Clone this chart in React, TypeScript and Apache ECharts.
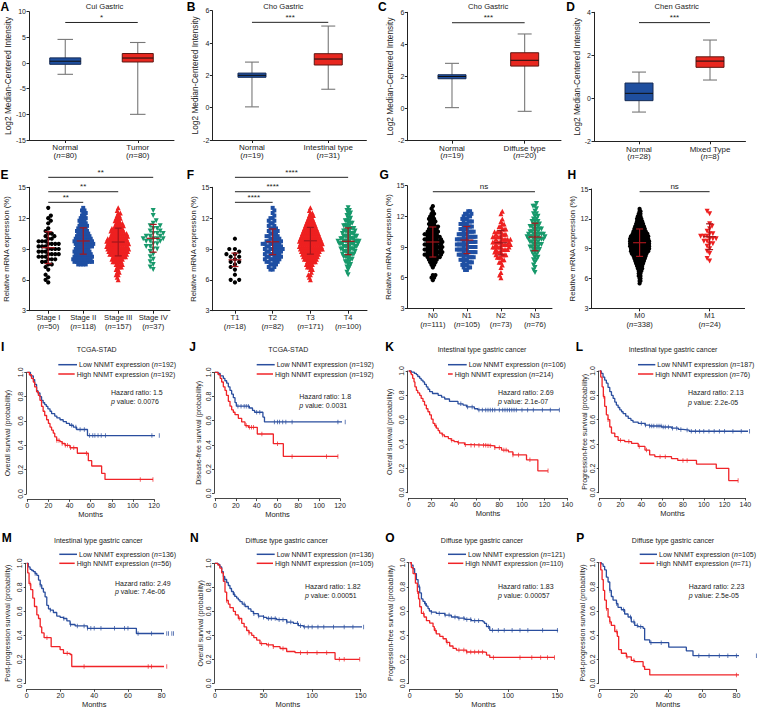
import React, { useEffect, useRef } from "react";
import * as echarts from "echarts";

const FONT = '"Liberation Sans", Arial, Helvetica, sans-serif';
const INK = "#222222";
const BOX_BLUE = "#1f4f9f";
const BOX_BLUE_EDGE = "#142a55";
const BOX_RED = "#e8271f";
const BOX_RED_EDGE = "#5e1712";
const WHISK = "#777777";
const DOT_BLACK = "#000000";
const DOT_BLUE = "#1f4fa3";
const DOT_RED = "#ee2020";
const DOT_GREEN = "#17996b";
const ERR_RED = "#a3161c";
const KM_BLUE = "#2a4e9e";
const KM_RED = "#f02428";

// ---------------- Row 1: box plots [min, q1, median, q3, max] ----------------
const A_cats = ["Normal", "Tumor"];
const A_n = [80, 80];
const A_normal = [-2.2, -0.25, 0.35, 1.0, 4.6];
const A_tumor = [-10.0, 0.2, 0.97, 1.85, 4.0];
const A_sig = "*";

const B_cats = ["Normal", "Intestinal type"];
const B_n = [19, 31];
const B_normal = [0.05, 1.88, 2.0, 2.14, 2.82];
const B_intestinal = [1.14, 2.64, 3.01, 3.34, 5.05];
const B_sig = "***";

const C_cats = ["Normal", "Diffuse type"];
const C_n = [19, 20];
const C_normal = [0.06, 1.86, 2.0, 2.11, 2.82];
const C_diffuse = [-0.17, 2.65, 3.01, 3.48, 4.65];
const C_sig = "***";

const D_cats = ["Normal", "Mixed Type"];
const D_n = [28, 8];
const D_normal = [-0.64, -0.11, 0.23, 0.71, 1.22];
const D_mixed = [0.85, 1.44, 1.73, 1.93, 2.71];
const D_sig = "***";

// ---------------- Row 2: dot plots (counts per 0.25 bin, starting at *_from) ----------------
const BIN_STEP = 0.25;

const E_cats = ["Stage I", "Stage II", "Stage III", "Stage IV"];
const E_n = [50, 118, 157, 37];
const E_from = [5.75, 7.5, 6.0, 7.0];
const E_stageI = [1, 1, 1, 1, 0, 1, 1, 2, 2, 3, 3, 4, 3, 4, 3, 4, 3, 2, 2, 2, 1, 1, 0, 1, 1, 1, 1, 0, 0, 1];
const E_stageII = [4, 8, 8, 8, 7, 7, 6, 7, 8, 8, 7, 6, 5, 5, 4, 4, 3, 3, 3, 2, 2, 2, 1];
const E_stageIII = [1, 1, 2, 2, 2, 3, 4, 5, 6, 7, 9, 10, 11, 11, 11, 11, 10, 9, 8, 7, 6, 5, 4, 3, 3, 2, 2, 1, 1];
const E_stageIV = [1, 1, 1, 1, 1, 1, 1, 1, 2, 2, 2, 3, 4, 3, 3, 2, 2, 2, 1, 1, 0, 1, 0, 1];
const E_mean = [9.13, 9.78, 9.68, 10.04];
const E_sd = [1.55, 1.28, 1.35, 1.35];
const E_sigPairs = [[1, 2, 13.54], [1, 3, 14.57], [1, 4, 15.97]];
const E_sigLabels = ["**", "**", "**"];

const F_cats = ["T1", "T2", "T3", "T4"];
const F_n = [18, 82, 171, 100];
const F_from = [5.75, 7.0, 6.0, 6.5];
const F_T1 = [1, 2, 0, 1, 0, 1, 1, 1, 2, 1, 2, 2, 1, 2, 0, 0, 0, 1];
const F_T2 = [2, 2, 3, 4, 5, 5, 5, 5, 6, 5, 6, 5, 4, 4, 3, 3, 3, 2, 2, 2, 2, 1, 1, 1, 1];
const F_T3 = [1, 1, 2, 1, 2, 3, 4, 5, 7, 8, 9, 10, 12, 12, 12, 12, 11, 10, 9, 8, 7, 6, 5, 4, 3, 3, 2, 1, 1];
const F_T4 = [1, 1, 1, 2, 2, 3, 3, 4, 5, 5, 6, 6, 8, 8, 6, 6, 5, 5, 4, 4, 3, 3, 2, 2, 2, 2, 1];
const F_mean = [7.95, 9.7, 9.8, 9.75];
const F_sd = [0.65, 1.25, 1.3, 1.3];
const F_sigPairs = [[1, 2, 13.54], [1, 3, 14.57], [1, 4, 15.97]];
const F_sigLabels = ["****", "****", "****"];

const G_cats = ["N0", "N1", "N2", "N3"];
const G_n = [111, 105, 73, 76];
const G_from = [5.75, 6.75, 6.0, 6.5];
const G_N0 = [1, 2, 2, 0, 0, 1, 2, 3, 4, 6, 7, 7, 7, 7, 7, 7, 7, 6, 6, 5, 4, 4, 3, 3, 3, 2, 2, 1, 1, 1];
const G_N1 = [2, 3, 3, 4, 4, 5, 5, 6, 6, 6, 6, 6, 6, 6, 5, 5, 4, 4, 4, 4, 3, 3, 3, 2];
const G_N2 = [1, 1, 1, 0, 1, 1, 2, 2, 3, 4, 4, 5, 6, 6, 6, 6, 5, 4, 4, 3, 2, 2, 1, 1, 0, 1, 1];
const G_N3 = [1, 1, 1, 1, 1, 2, 2, 2, 3, 3, 4, 4, 4, 6, 6, 6, 4, 4, 4, 3, 3, 2, 2, 2, 1, 1, 2, 1];
const G_mean = [9.49, 9.68, 9.42, 9.98];
const G_sd = [1.47, 1.33, 1.2, 1.35];
const G_sigPairs = [[1, 4, 14.41]];
const G_sigLabels = ["ns"];

const H_cats = ["M0", "M1"];
const H_n = [338, 24];
const H_from = [5.5, 7.75];
const H_M0 = [1, 2, 2, 3, 3, 4, 6, 7, 9, 11, 13, 15, 18, 21, 22, 23, 23, 23, 22, 21, 18, 15, 13, 11, 9, 7, 6, 4, 3, 2, 1];
const H_M1 = [1, 1, 0, 1, 1, 1, 1, 2, 2, 3, 3, 2, 1, 1, 1, 1, 0, 0, 0, 1, 1];
const H_mean = [9.6, 10.2];
const H_sd = [1.38, 1.3];
const H_sigPairs = [[1, 2, 14.73]];
const H_sigLabels = ["ns"];

// ---------------- Rows 3-4: Kaplan-Meier curves [months, survival] ----------------
const I_low = [[0, 1], [3, 0.97], [5.7, 0.94], [7, 0.9], [8.8, 0.85], [10, 0.83], [12, 0.8], [13.5, 0.77], [15, 0.75], [16.5, 0.735], [18, 0.72], [19.5, 0.7], [21.5, 0.68], [23, 0.66], [26, 0.64], [28, 0.625], [31, 0.61], [34, 0.595], [37, 0.58], [40, 0.565], [43.6, 0.55], [46.7, 0.53], [57, 0.48], [125, 0.48]];
const I_high = [[0, 1], [2, 0.98], [4, 0.95], [5.7, 0.92], [7, 0.88], [8.8, 0.84], [10.5, 0.81], [12, 0.77], [13.5, 0.72], [15, 0.68], [16.5, 0.645], [18.3, 0.61], [20, 0.58], [21.5, 0.55], [23, 0.525], [24.6, 0.5], [26, 0.47], [27.8, 0.44], [31, 0.43], [33, 0.415], [35.7, 0.4], [40.4, 0.38], [47.4, 0.335], [57.8, 0.274], [61, 0.23], [70.4, 0.17], [73.6, 0.12], [119, 0.12]];
const I_lowCens = [42, 46, 50, 54, 59, 62, 64, 67, 70, 74, 118, 125];
const I_highCens = [28, 30, 33, 36, 38, 41, 44, 56, 107, 119];
const I_n = [192, 192];
const I_stats = ["1.5", "0.0076"];

const J_low = [[0, 1], [3, 0.99], [5, 0.97], [8, 0.95], [9.5, 0.93], [11.2, 0.91], [12.8, 0.88], [14.4, 0.85], [16, 0.82], [17.6, 0.79], [19.2, 0.75], [20.5, 0.72], [33, 0.705], [36, 0.685], [38, 0.67], [46, 0.63], [47.5, 0.59], [125, 0.59]];
const J_high = [[0, 1], [3, 0.98], [5, 0.95], [6.4, 0.92], [8, 0.88], [9.6, 0.85], [11, 0.81], [12.8, 0.76], [14.4, 0.72], [16, 0.69], [17.6, 0.67], [19.2, 0.65], [22.4, 0.62], [25.6, 0.59], [28.8, 0.56], [32, 0.545], [40.6, 0.49], [56, 0.41], [65.6, 0.305], [118, 0.305]];
const J_lowCens = [22, 25, 28, 30, 32, 40, 43, 57, 60, 62, 65, 68, 74, 118, 125];
const J_highCens = [30, 33, 35, 37, 45, 60, 74, 107, 118];
const J_n = [192, 192];
const J_stats = ["1.8", "0.0031"];

const K_low = [[0, 1], [2.3, 0.99], [5, 0.98], [6.8, 0.97], [8, 0.955], [9.7, 0.94], [11, 0.925], [12.6, 0.91], [14, 0.89], [15.6, 0.87], [17, 0.85], [18.5, 0.83], [21, 0.815], [26, 0.8], [29, 0.785], [31.8, 0.77], [36, 0.75], [43.5, 0.73], [48, 0.72], [51, 0.705], [58, 0.69], [61, 0.68], [133, 0.68]];
const K_high = [[0, 1], [1.5, 0.985], [2.3, 0.97], [3.5, 0.94], [4.7, 0.91], [5.5, 0.87], [6.8, 0.84], [8, 0.82], [9.7, 0.8], [11, 0.775], [12.6, 0.75], [14, 0.72], [15.6, 0.69], [17, 0.665], [18.5, 0.64], [20, 0.605], [21.5, 0.57], [23, 0.55], [24.4, 0.53], [26, 0.51], [27.3, 0.49], [29.5, 0.475], [31.6, 0.46], [35, 0.445], [37.5, 0.43], [40, 0.42], [43.4, 0.41], [49.3, 0.395], [55, 0.39], [70, 0.385], [76, 0.37], [82, 0.35], [88, 0.335], [92, 0.31], [104, 0.27], [114, 0.18], [123, 0.18]];
const K_lowCens = [46, 52, 56, 62, 65, 68, 70, 72, 74, 76, 80, 83, 85, 87, 89, 91, 93, 95, 100, 105, 110, 118, 125, 133];
const K_highCens = [24, 30, 38, 44, 50, 55, 58, 62, 66, 68, 70, 72, 76, 80, 84, 86, 92, 97, 107, 123];
const K_n = [106, 214];
const K_stats = ["2.69", "2.1e-07"];

const L_low = [[0, 1], [1.5, 0.98], [3.2, 0.95], [4.8, 0.925], [6.4, 0.9], [8, 0.865], [9.7, 0.83], [11.3, 0.8], [12.9, 0.775], [14.5, 0.745], [16, 0.72], [17.7, 0.7], [19.3, 0.68], [21, 0.665], [22.5, 0.65], [25, 0.63], [27.4, 0.61], [30, 0.595], [32, 0.58], [37, 0.57], [43.5, 0.556], [48, 0.548], [59.5, 0.54], [69, 0.53], [75.6, 0.52], [80, 0.515], [86, 0.505], [145, 0.505]];
const L_high = [[0, 1], [1, 0.95], [2.3, 0.87], [3.5, 0.79], [4.8, 0.71], [6.4, 0.64], [8, 0.6], [9.7, 0.54], [11.3, 0.49], [14.5, 0.46], [17.7, 0.43], [24, 0.42], [30.6, 0.405], [37, 0.38], [43.5, 0.35], [48, 0.31], [53, 0.296], [69, 0.28], [75, 0.265], [93, 0.235], [112, 0.2], [124, 0.1], [133, 0.1]];
const L_lowCens = [40, 44, 48, 50, 52, 55, 57, 59, 61, 63, 66, 70, 74, 78, 84, 88, 92, 96, 100, 105, 110, 115, 120, 128, 136, 144];
const L_highCens = [4, 8, 20, 28, 38, 45, 58, 63, 80, 84, 133];
const L_n = [187, 76];
const L_stats = ["2.13", "2.2e-05"];

const M_low = [[0, 1], [1, 0.97], [2, 0.95], [3, 0.94], [4, 0.93], [5, 0.915], [6, 0.9], [7, 0.86], [8, 0.82], [8.9, 0.79], [9.9, 0.76], [10.9, 0.72], [11.9, 0.65], [12.9, 0.62], [14, 0.61], [15.8, 0.59], [17.8, 0.56], [19.8, 0.55], [21.8, 0.54], [23.8, 0.52], [25.7, 0.49], [28.7, 0.478], [36, 0.458], [65, 0.415], [87, 0.415]];
const M_high = [[0, 1], [0.6, 0.92], [1.4, 0.83], [2.4, 0.78], [3.6, 0.71], [4.6, 0.64], [6, 0.57], [7, 0.54], [8, 0.47], [8.9, 0.42], [10.3, 0.38], [14.5, 0.305], [19.8, 0.28], [21.8, 0.25], [25.7, 0.24], [26.7, 0.14], [83, 0.14]];
const M_lowCens = [5, 8, 14, 22, 26, 30, 34, 36, 38, 40, 44, 52, 58, 60, 66, 74, 83, 84, 86, 87];
const M_highCens = [2, 12, 24, 34, 72, 74, 83];
const M_n = [136, 56];
const M_stats = ["2.49", "7.4e-06"];

const N_low = [[0, 1], [3, 0.99], [5, 0.97], [6.9, 0.93], [8.6, 0.89], [10, 0.865], [12, 0.84], [13.7, 0.815], [15.4, 0.79], [17, 0.765], [18.9, 0.74], [20.5, 0.725], [22.3, 0.71], [24, 0.695], [25.7, 0.68], [28, 0.66], [31, 0.64], [34.3, 0.62], [37, 0.6], [39.5, 0.58], [44.6, 0.56], [50, 0.55], [53.2, 0.54], [63.5, 0.53], [73.8, 0.51], [80.7, 0.5], [85.8, 0.48], [91, 0.47], [153, 0.47]];
const N_high = [[0, 1], [3, 0.985], [5, 0.96], [6.9, 0.92], [8.6, 0.85], [10.3, 0.76], [12, 0.69], [13.7, 0.66], [15.4, 0.63], [18.9, 0.6], [21, 0.57], [24, 0.54], [27.5, 0.5], [30, 0.47], [32.6, 0.44], [35, 0.42], [37.8, 0.4], [40, 0.38], [42.9, 0.36], [46.3, 0.33], [53.2, 0.32], [60, 0.305], [67, 0.29], [73.8, 0.265], [82.4, 0.255], [123.6, 0.2], [149, 0.2]];
const N_lowCens = [10, 20, 30, 40, 45, 50, 55, 58, 62, 66, 70, 74, 78, 85, 88, 92, 96, 100, 106, 112, 122, 133, 142, 153];
const N_highCens = [12, 25, 35, 48, 55, 60, 70, 88, 95, 105, 115, 128, 133, 149];
const N_n = [136, 105];
const N_stats = ["1.82", "0.00051"];

const O_low = [[0, 1], [1.7, 0.98], [3.4, 0.95], [5, 0.91], [6.8, 0.86], [8.5, 0.8], [10.2, 0.75], [11.9, 0.7], [13.5, 0.68], [15.2, 0.66], [17, 0.64], [18.6, 0.62], [20, 0.6], [22, 0.59], [27, 0.58], [35.6, 0.566], [42.3, 0.55], [49, 0.54], [56, 0.53], [62.6, 0.52], [74.5, 0.51], [76, 0.497], [78, 0.47], [81.3, 0.44], [150.7, 0.44]];
const O_high = [[0, 1], [1.7, 0.96], [3.4, 0.91], [5.8, 0.83], [7.8, 0.76], [9, 0.7], [10.2, 0.635], [11.9, 0.58], [14.6, 0.55], [17, 0.52], [20.3, 0.5], [23.7, 0.47], [25, 0.44], [27, 0.41], [30.5, 0.39], [33.9, 0.37], [37.2, 0.34], [40.6, 0.31], [44, 0.29], [47.4, 0.276], [57.6, 0.26], [76, 0.257], [78, 0.235], [81.3, 0.215], [147, 0.215]];
const O_lowCens = [10, 16, 22, 30, 36, 40, 46, 50, 55, 58, 62, 66, 70, 80, 84, 90, 96, 104, 112, 120, 135, 150];
const O_highCens = [8, 14, 26, 38, 50, 55, 58, 62, 66, 70, 74, 85, 112, 124, 133, 140, 147];
const O_n = [121, 110];
const O_stats = ["1.83", "0.00057"];

const P_low = [[0, 1], [1, 0.99], [2, 0.97], [2.9, 0.94], [3.9, 0.88], [4.9, 0.84], [5.9, 0.77], [6.8, 0.72], [7.8, 0.69], [9.8, 0.66], [10.7, 0.63], [12.7, 0.61], [14.6, 0.575], [16.6, 0.55], [18.5, 0.51], [20.5, 0.48], [22.4, 0.47], [25.4, 0.456], [26.3, 0.36], [29.3, 0.337], [40.4, 0.3], [50.7, 0.27], [54.6, 0.23], [91.7, 0.23]];
const P_high = [[0, 1], [0.6, 0.94], [1.4, 0.86], [2.1, 0.77], [2.9, 0.69], [3.9, 0.62], [4.9, 0.55], [5.9, 0.51], [6.8, 0.48], [8.8, 0.43], [10.3, 0.39], [11.1, 0.28], [12.7, 0.25], [15.6, 0.22], [18.5, 0.19], [20.5, 0.18], [25.4, 0.14], [26.3, 0.116], [29.3, 0.07], [84, 0.07], [84.6, 0.0]];
const P_lowCens = [6, 10, 14, 18, 20, 22, 24, 30, 36, 58, 64, 70, 75, 80, 91.7];
const P_highCens = [4, 6, 10, 16, 20, 80];
const P_n = [105, 71];
const P_stats = ["2.23", "2.5e-05"];

// ---------------- helpers ----------------
function expand(from: number, counts: number[]): number[] {
  const out: number[] = [];
  counts.forEach((c, i) => {
    for (let k = 0; k < c; k++) out.push(from + i * BIN_STEP);
  });
  return out;
}

// beeswarm layout (pixel offsets), then scaled to a target swarm width
function swarmOffsets(vals: number[], pxPerY: number, d: number, width: number): number[] {
  const order = vals.map((_, i) => i).sort((a, b) => vals[a] - vals[b]);
  const placed: number[][] = [];
  const out = new Array(vals.length).fill(0);
  const step = d * 0.3;
  order.forEach((i, n) => {
    const y = vals[i] * pxPerY;
    const near = placed.filter((q) => Math.abs(q[1] - y) < d);
    const pref = n % 2 === 0 ? 1 : -1;
    let x = 0;
    for (let k = 0; k < 3000; k++) {
      const c = k === 0 ? 0 : (k % 2 === 1 ? pref : -pref) * Math.ceil(k / 2) * step;
      if (near.every((q) => (q[0] - c) * (q[0] - c) + (q[1] - y) * (q[1] - y) >= d * d - 1e-6)) {
        x = c;
        break;
      }
    }
    placed.push([x, y]);
    out[i] = x;
  });
  const maxAbs = Math.max(1e-6, ...out.map((v: number) => Math.abs(v)));
  const k = width / 2 / maxAbs;
  return out.map((v: number) => v * k);
}

function survAt(curve: number[][], t: number): number {
  let s = curve[0][1];
  for (const p of curve) if (p[0] <= t) s = p[1];
  return s;
}

function buildOption(): any {
  const grid: any[] = [];
  const xAxis: any[] = [];
  const yAxis: any[] = [];
  const series: any[] = [];
  const graphic: any[] = [];

  const addText = (x: number, y: number, text: string, size: number, extra: any = {}) => {
    graphic.push({
      type: "text",
      x,
      y,
      silent: true,
      z: 100,
      style: {
        text,
        fontSize: size,
        fontFamily: FONT,
        fill: INK,
        align: "left",
        verticalAlign: "middle",
        ...extra,
        rich: { i: { fontSize: size, fontFamily: FONT, fontStyle: "italic", fill: INK } },
      },
    });
  };
  const addLine = (x1: number, y1: number, x2: number, y2: number, color: string, w: number) => {
    graphic.push({ type: "line", silent: true, z: 100, shape: { x1, y1, x2, y2 }, style: { stroke: color, lineWidth: w } });
  };

  const catRich = (size: number, lh: number) => ({
    t: { fontSize: size, fontFamily: FONT, color: INK, lineHeight: lh },
    i: { fontSize: size, fontFamily: FONT, color: INK, fontStyle: "italic", lineHeight: lh },
  });
  const catFormatter = (cats: string[], n: number[]) => (v: number) => {
    const i = Math.round(v) - 1;
    if (i < 0 || i >= cats.length) return "";
    return `{t|${cats[i]}}\n{t|(}{i|n}{t|=${n[i]})}`;
  };

  const sigRender = (labels: string[]) => (params: any, api: any) => {
    const a = api.coord([api.value(0), api.value(2)]);
    const b = api.coord([api.value(1), api.value(2)]);
    return {
      type: "group",
      children: [
        { type: "line", shape: { x1: a[0], y1: a[1], x2: b[0], y2: b[1] }, style: { stroke: INK, lineWidth: 1 } },
        {
          type: "text",
          x: (a[0] + b[0]) / 2,
          y: a[1] - 1,
          style: { text: labels[params.dataIndex], fontSize: 8, fontFamily: FONT, fill: INK, align: "center", verticalAlign: "bottom" },
        },
      ],
    };
  };

  const baseGrid = (l: number, t: number, w: number, h: number) => {
    grid.push({ left: l, top: t, width: w, height: h, containLabel: false, outerBoundsMode: "none", show: false });
    return grid.length - 1;
  };

  // ---------- box panels ----------
  const addBoxPanel = (p: any) => {
    const gi = baseGrid(p.left, p.top, p.right - p.left, p.bottom - p.top);
    xAxis.push({
      gridIndex: gi,
      type: "value",
      min: p.xMin,
      max: p.xMax,
      axisLine: { show: true, onZero: false, lineStyle: { color: INK, width: 1 } },
      axisTick: { show: true, inside: false, length: 3, customValues: [1, 2], lineStyle: { color: INK, width: 1 } },
      axisLabel: { show: true, customValues: [1, 2], margin: 4, formatter: catFormatter(p.cats, p.n), rich: catRich(8, 7.5) },
      splitLine: { show: false },
    });
    yAxis.push({
      gridIndex: gi,
      type: "value",
      min: p.yMin,
      max: p.yMax,
      interval: p.yInt,
      axisLine: { show: true, onZero: false, lineStyle: { color: INK, width: 1 } },
      axisTick: { show: true, length: 2.5, lineStyle: { color: INK, width: 1 } },
      axisLabel: { fontSize: 7, color: INK, fontFamily: FONT, margin: 3 },
      splitLine: { show: false },
      name: "Log2 Median-Centered Intensity",
      nameLocation: "middle",
      nameGap: p.nameGap,
      nameTextStyle: { fontSize: 8.3, color: INK, fontFamily: FONT },
    });
    const boxW = p.boxW;
    series.push({
      type: "custom",
      xAxisIndex: gi,
      yAxisIndex: gi,
      silent: true,
      data: p.boxes.map((b: number[], i: number) => [i + 1, ...b]),
      encode: { x: 0, y: [1, 2, 3, 4, 5] },
      renderItem: (params: any, api: any) => {
        const x = api.value(0);
        const pts = [1, 2, 3, 4, 5].map((k) => api.coord([x, api.value(k)]));
        const cx = pts[0][0];
        const hw = boxW / 2;
        const cw = boxW * 0.25;
        const fill = params.dataIndex === 0 ? BOX_BLUE : BOX_RED;
        const edge = params.dataIndex === 0 ? BOX_BLUE_EDGE : BOX_RED_EDGE;
        return {
          type: "group",
          children: [
            { type: "line", shape: { x1: cx, y1: pts[4][1], x2: cx, y2: pts[0][1] }, style: { stroke: WHISK, lineWidth: 1.1 } },
            { type: "line", shape: { x1: cx - cw, y1: pts[4][1], x2: cx + cw, y2: pts[4][1] }, style: { stroke: WHISK, lineWidth: 1.1 } },
            { type: "line", shape: { x1: cx - cw, y1: pts[0][1], x2: cx + cw, y2: pts[0][1] }, style: { stroke: WHISK, lineWidth: 1.1 } },
            { type: "rect", shape: { x: cx - hw, y: pts[3][1], width: boxW, height: pts[1][1] - pts[3][1] }, style: { fill, stroke: edge, lineWidth: 1 } },
            { type: "line", shape: { x1: cx - hw, y1: pts[2][1], x2: cx + hw, y2: pts[2][1] }, style: { stroke: "#111", lineWidth: 1 } },
          ],
        };
      },
    });
    series.push({
      type: "custom",
      xAxisIndex: gi,
      yAxisIndex: gi,
      silent: true,
      data: [[1, 2, p.sigY]],
      renderItem: sigRender([p.sig]),
    });
    addText((p.left + p.right) / 2 + p.titleDx, 6.5, p.title, 7.6, { align: "center" });
    addText(p.letterX, 7, p.letter, 12, { fontWeight: "bold", fill: "#000" });
  };

  addBoxPanel({ letter: "A", letterX: 0.5, title: "Cui Gastric", titleDx: 3, left: 29, right: 174, top: 11.7, bottom: 140, xMin: 0.5, xMax: 2.5, yMin: -15, yMax: 10, yInt: 5, boxW: 31, nameGap: 11.4, sigY: 7.9, cats: A_cats, n: A_n, boxes: [A_normal, A_tumor], sig: A_sig });
  addBoxPanel({ letter: "B", letterX: 186.7, title: "Cho Gastric", titleDx: -6, left: 212.3, right: 366.4, top: 10.7, bottom: 140, xMin: 0.48, xMax: 2.5, yMin: -2, yMax: 6, yInt: 2, boxW: 28, nameGap: 9.5, sigY: 5.28, cats: B_cats, n: B_n, boxes: [B_normal, B_intestinal], sig: B_sig });
  addBoxPanel({ letter: "C", letterX: 378, title: "Cho Gastric", titleDx: 4, left: 407.3, right: 561, top: 12.3, bottom: 140.7, xMin: 0.385, xMax: 2.5, yMin: -2, yMax: 6, yInt: 2, boxW: 28, nameGap: 11.5, sigY: 5.35, cats: C_cats, n: C_n, boxes: [C_normal, C_diffuse], sig: C_sig });
  addBoxPanel({ letter: "D", letterX: 566.3, title: "Chen Gastric", titleDx: 7, left: 594, right: 745.5, top: 12.3, bottom: 141.3, xMin: 0.366, xMax: 2.5, yMin: -2, yMax: 4, yInt: 2, boxW: 28, nameGap: 9, sigY: 3.52, cats: D_cats, n: D_n, boxes: [D_normal, D_mixed], sig: D_sig });

  // ---------- dot panels ----------
  const SYM: any = {
    black: { symbol: "circle", rotate: 0, color: DOT_BLACK, size: 4.2 },
    blue: { symbol: "rect", rotate: 0, color: DOT_BLUE, size: 4 },
    red: { symbol: "triangle", rotate: 0, color: DOT_RED, size: 5 },
    green: { symbol: "triangle", rotate: 180, color: DOT_GREEN, size: 5 },
    redInv: { symbol: "triangle", rotate: 180, color: DOT_RED, size: 5 },
  };

  const addDotPanel = (p: any) => {
    const gi = baseGrid(p.left, p.top, p.right - p.left, p.bottom - p.top);
    const pxPerX = (p.right - p.left) / (p.xMax - p.xMin);
    const pxPerY = (p.bottom - p.top) / (15 - 3);
    const ticks = p.cats.map((_: string, i: number) => i + 1);
    xAxis.push({
      gridIndex: gi,
      type: "value",
      min: p.xMin,
      max: p.xMax,
      axisLine: { show: true, onZero: false, lineStyle: { color: INK, width: 1 } },
      axisTick: { show: true, length: 3, customValues: ticks, lineStyle: { color: INK, width: 1 } },
      axisLabel: { show: true, customValues: ticks, margin: 2.5, formatter: catFormatter(p.cats, p.n), rich: catRich(7.6, 9) },
      splitLine: { show: false },
    });
    yAxis.push({
      gridIndex: gi,
      type: "value",
      min: 3,
      max: 15,
      interval: 3,
      axisLine: { show: true, onZero: false, lineStyle: { color: INK, width: 1 } },
      axisTick: { show: true, length: 2.5, lineStyle: { color: INK, width: 1 } },
      axisLabel: { fontSize: 7, color: INK, fontFamily: FONT, margin: 3 },
      splitLine: { show: false },
      name: "Relative mRNA expression (%)",
      nameLocation: "middle",
      nameGap: p.nameGap,
      nameTextStyle: { fontSize: 7.7, color: INK, fontFamily: FONT },
    });
    p.groups.forEach((g: any, gi2: number) => {
      const vals = expand(p.from[gi2], g.counts);
      const offs = swarmOffsets(vals, pxPerY, g.d, g.w);
      const s = SYM[g.style];
      series.push({
        type: "scatter",
        xAxisIndex: gi,
        yAxisIndex: gi,
        silent: true,
        symbol: s.symbol,
        symbolRotate: s.rotate,
        symbolSize: s.size,
        itemStyle: { color: s.color, opacity: 1 },
        data: vals.map((v, k) => [gi2 + 1 + offs[k] / pxPerX, v]),
        z: 2,
      });
    });
    series.push({
      type: "custom",
      xAxisIndex: gi,
      yAxisIndex: gi,
      silent: true,
      z: 5,
      data: p.mean.map((m: number, i: number) => [i + 1, m, p.sd[i]]),
      renderItem: (params: any, api: any) => {
        const x = api.value(0);
        const m = api.value(1);
        const s = api.value(2);
        const top = api.coord([x, m + s]);
        const mid = api.coord([x, m]);
        const bot = api.coord([x, m - s]);
        const cx = mid[0];
        const st = { stroke: ERR_RED, lineWidth: 1.2 };
        return {
          type: "group",
          children: [
            { type: "line", shape: { x1: cx, y1: top[1], x2: cx, y2: bot[1] }, style: st },
            { type: "line", shape: { x1: cx - 3.5, y1: top[1], x2: cx + 3.5, y2: top[1] }, style: st },
            { type: "line", shape: { x1: cx - 3.5, y1: bot[1], x2: cx + 3.5, y2: bot[1] }, style: st },
            { type: "line", shape: { x1: cx - 6.5, y1: mid[1], x2: cx + 6.5, y2: mid[1] }, style: st },
          ],
        };
      },
    });
    series.push({
      type: "custom",
      xAxisIndex: gi,
      yAxisIndex: gi,
      silent: true,
      data: p.sigPairs,
      renderItem: sigRender(p.sigLabels),
    });
    addText(p.letterX, 175, p.letter, 12, { fontWeight: "bold", fill: "#000" });
  };

  addDotPanel({
    letter: "E", letterX: 0.5, left: 29, right: 170, top: 187.3, bottom: 310.7, xMin: 0.45, xMax: 4.48, nameGap: 18.5,
    cats: E_cats, n: E_n, from: E_from, mean: E_mean, sd: E_sd, sigPairs: E_sigPairs, sigLabels: E_sigLabels,
    groups: [
      { counts: E_stageI, style: "black", d: 4.5, w: 21 },
      { counts: E_stageII, style: "blue", d: 3.2, w: 20 },
      { counts: E_stageIII, style: "red", d: 3.2, w: 23 },
      { counts: E_stageIV, style: "green", d: 4.5, w: 20 },
    ],
  });
  addDotPanel({
    letter: "F", letterX: 186.7, left: 212.3, right: 367, top: 187.3, bottom: 310.7, xMin: 0.4, xMax: 4.5, nameGap: 11.5,
    cats: F_cats, n: F_n, from: F_from, mean: F_mean, sd: F_sd, sigPairs: F_sigPairs, sigLabels: F_sigLabels,
    groups: [
      { counts: F_T1, style: "black", d: 5, w: 17 },
      { counts: F_T2, style: "blue", d: 3.4, w: 20 },
      { counts: F_T3, style: "red", d: 3.2, w: 24 },
      { counts: F_T4, style: "green", d: 3.4, w: 22 },
    ],
  });
  addDotPanel({
    letter: "G", letterX: 379.5, left: 407.3, right: 552, top: 185.7, bottom: 308.3, xMin: 0.25, xMax: 4.5, nameGap: 12,
    cats: G_cats, n: G_n, from: G_from, mean: G_mean, sd: G_sd, sigPairs: G_sigPairs, sigLabels: G_sigLabels,
    groups: [
      { counts: G_N0, style: "black", d: 3.3, w: 19 },
      { counts: G_N1, style: "blue", d: 3.4, w: 20 },
      { counts: G_N2, style: "red", d: 3.6, w: 19 },
      { counts: G_N3, style: "green", d: 3.6, w: 20 },
    ],
  });
  addDotPanel({
    letter: "H", letterX: 567.5, left: 591.3, right: 744.6, top: 189, bottom: 308.3, xMin: 0.31, xMax: 2.5, nameGap: 9,
    cats: H_cats, n: H_n, from: H_from, mean: H_mean, sd: H_sd, sigPairs: H_sigPairs, sigLabels: H_sigLabels,
    groups: [
      { counts: H_M0, style: "black", d: 1.4, w: 19 },
      { counts: H_M1, style: "redInv", d: 4.5, w: 18 },
    ],
  });

  // ---------- KM panels ----------
  const addKmPanel = (p: any) => {
    const gi = baseGrid(p.left, p.top, p.width, p.height);
    xAxis.push({
      gridIndex: gi,
      type: "value",
      min: 0,
      max: p.xMax,
      interval: p.xInt,
      offset: p.xOffset,
      axisLine: { show: true, onZero: false, lineStyle: { color: "#333", width: 0.9 } },
      axisTick: { show: true, length: 2.5, lineStyle: { color: "#333", width: 0.9 } },
      axisLabel: { fontSize: 7, color: INK, fontFamily: FONT, margin: 3 },
      splitLine: { show: false },
      name: "Months",
      nameLocation: "middle",
      nameGap: p.monthsGap,
      nameTextStyle: { fontSize: 7.5, color: INK, fontFamily: FONT },
    });
    yAxis.push({
      gridIndex: gi,
      type: "value",
      min: 0,
      max: 1,
      interval: 0.2,
      offset: 1,
      axisLine: { show: true, onZero: false, lineStyle: { color: "#333", width: 0.9 } },
      axisTick: { show: true, length: 2, lineStyle: { color: "#333", width: 0.9 } },
      axisLabel: { fontSize: 7, color: INK, fontFamily: FONT, margin: 2.5, rotate: 90, formatter: (v: number) => v.toFixed(1) },
      splitLine: { show: false },
      name: p.yName,
      nameLocation: "middle",
      nameGap: p.nameGap,
      nameTextStyle: { fontSize: 7, color: INK, fontFamily: FONT },
    });
    const curves = [
      { data: p.low, cens: p.lowCens, color: KM_BLUE },
      { data: p.high, cens: p.highCens, color: KM_RED },
    ];
    curves.forEach((c) => {
      series.push({
        type: "line",
        xAxisIndex: gi,
        yAxisIndex: gi,
        step: "end",
        showSymbol: false,
        silent: true,
        clip: false,
        lineStyle: { color: c.color, width: 1.3 },
        data: c.data,
        z: 3,
      });
      series.push({
        type: "scatter",
        xAxisIndex: gi,
        yAxisIndex: gi,
        silent: true,
        clip: false,
        symbol: "rect",
        symbolSize: [0.9, 4.5],
        itemStyle: { color: c.color },
        data: c.cens.map((t: number) => [t, survAt(c.data, t)]),
        z: 4,
      });
    });
    addText(p.titleX, p.titleY, p.title, 7, { align: "center" });
    addText(p.letterX, p.letterY, p.letter, 12, { fontWeight: "bold", fill: "#000" });
    addLine(p.legX, p.legY[0], p.lowTextX - 2, p.legY[0], KM_BLUE, 1.5);
    addLine(p.legX, p.legY[1], p.highTextX - 2, p.legY[1], KM_RED, 1.5);
    addText(p.lowTextX, p.legY[0], `Low NNMT expression ({i|n}=${p.n[0]})`, 7);
    addText(p.highTextX, p.legY[1], `High NNMT expression ({i|n}=${p.n[1]})`, 7);
    addText(p.statX, p.statY[0], `Hazard ratio: ${p.stats[0]}`, 7);
    addText(p.statX, p.statY[1], `{i|p} value: ${p.stats[1]}`, 7);
  };

  const ROW3 = { xOffset: 5.3, monthsGap: 11.5, titleY: 349.3, letterY: 346.5, legY: [364.7, 374] };
  const ROW4 = { xOffset: 6, monthsGap: 10.5, titleY: 540, letterY: 537.8, legY: [554.3, 563.3] };

  addKmPanel({ ...ROW3, letter: "I", letterX: 1, title: "TCGA-STAD", titleX: 96.7, left: 27.3, top: 372.3, width: 126.7, height: 121.7, xMax: 120, xInt: 20, nameGap: 15, yName: "Overall survival (probability)", low: I_low, high: I_high, lowCens: I_lowCens, highCens: I_highCens, n: I_n, stats: I_stats, legX: 58.3, lowTextX: 79, highTextX: 76.7, statX: 111, statY: [392.7, 401.7] });
  addKmPanel({ ...ROW3, letter: "J", letterX: 189.3, title: "TCGA-STAD", titleX: 288.3, left: 215, top: 372.3, width: 125, height: 121, xMax: 120, xInt: 20, nameGap: 12, yName: "Disease-free survival (probability)", low: J_low, high: J_high, lowCens: J_lowCens, highCens: J_highCens, n: J_n, stats: J_stats, legX: 256.7, lowTextX: 276.7, highTextX: 275, statX: 299.3, statY: [396.7, 405.3] });
  addKmPanel({ ...ROW3, letter: "K", letterX: 385.3, title: "Intestinal type gastric cancer", titleX: 482, left: 408.7, top: 371, width: 158.6, height: 121.7, xMax: 140, xInt: 20, nameGap: 14.4, yName: "Overall survival (probability)", low: K_low, high: K_high, lowCens: K_lowCens, highCens: K_highCens, n: K_n, stats: K_stats, legX: 448, lowTextX: 468.7, highTextX: 454.7, statX: 498, statY: [392.7, 401.7] });
  addKmPanel({ ...ROW3, letter: "L", letterX: 575.7, title: "Intestinal type gastric cancer", titleX: 673, left: 599.7, top: 371, width: 145.7, height: 121.7, xMax: 140, xInt: 20, nameGap: 10.4, yName: "Progression-free survival (probability)", low: L_low, high: L_high, lowCens: L_lowCens, highCens: L_highCens, n: L_n, stats: L_stats, legX: 638, lowTextX: 657.3, highTextX: 655.3, statX: 688, statY: [392.7, 402] });

  addKmPanel({ ...ROW4, letter: "M", letterX: 1.7, title: "Intestinal type gastric cancer", titleX: 98.3, left: 26.7, top: 563.3, width: 135, height: 120, xMax: 80, xInt: 20, nameGap: 14.8, yName: "Post-progression survival (probability)", low: M_low, high: M_high, lowCens: M_lowCens, highCens: M_highCens, n: M_n, stats: M_stats, legX: 59.3, lowTextX: 79, highTextX: 76.7, statX: 115, statY: [583.3, 591.7] });
  addKmPanel({ ...ROW4, letter: "N", letterX: 190, title: "Diffuse type gastric cancer", titleX: 286.7, left: 215, top: 563.3, width: 145.7, height: 120, xMax: 150, xInt: 50, nameGap: 10.4, yName: "Overall survival (probability)", low: N_low, high: N_high, lowCens: N_lowCens, highCens: N_highCens, n: N_n, stats: N_stats, legX: 256.7, lowTextX: 276.7, highTextX: 275, statX: 305, statY: [586, 595] });
  addKmPanel({ ...ROW4, letter: "O", letterX: 385.3, title: "Diffuse type gastric cancer", titleX: 482, left: 409.7, top: 562.7, width: 147.7, height: 120.7, xMax: 150, xInt: 50, nameGap: 14.4, yName: "Progression-free survival (probability)", low: O_low, high: O_high, lowCens: O_lowCens, highCens: O_highCens, n: O_n, stats: O_stats, legX: 448, lowTextX: 468, highTextX: 465.3, statX: 498, statY: [586, 595] });
  addKmPanel({ ...ROW4, letter: "P", letterX: 576.3, title: "Diffuse type gastric cancer", titleX: 673, left: 599.7, top: 562.7, width: 136.7, height: 120.7, xMax: 80, xInt: 20, nameGap: 13.1, yName: "Post-progression survival (probability)", low: P_low, high: P_high, lowCens: P_lowCens, highCens: P_highCens, n: P_n, stats: P_stats, legX: 639.7, lowTextX: 659, highTextX: 656.3, statX: 688.7, statY: [586, 595] });

  return {
    animation: false,
    backgroundColor: "#ffffff",
    textStyle: { fontFamily: FONT },
    grid,
    xAxis,
    yAxis,
    series,
    graphic: { elements: graphic },
  };
}

export default function App() {
  const ref = useRef<HTMLDivElement>(null);
  useEffect(() => {
    if (!ref.current) return;
    const chart = echarts.init(ref.current, null, { renderer: "svg" });
    chart.setOption(buildOption());
    return () => chart.dispose();
  }, []);
  return <div ref={ref} style={{ position: "fixed", left: 0, top: 0, width: 758, height: 708, background: "#fff" }} />;
}
